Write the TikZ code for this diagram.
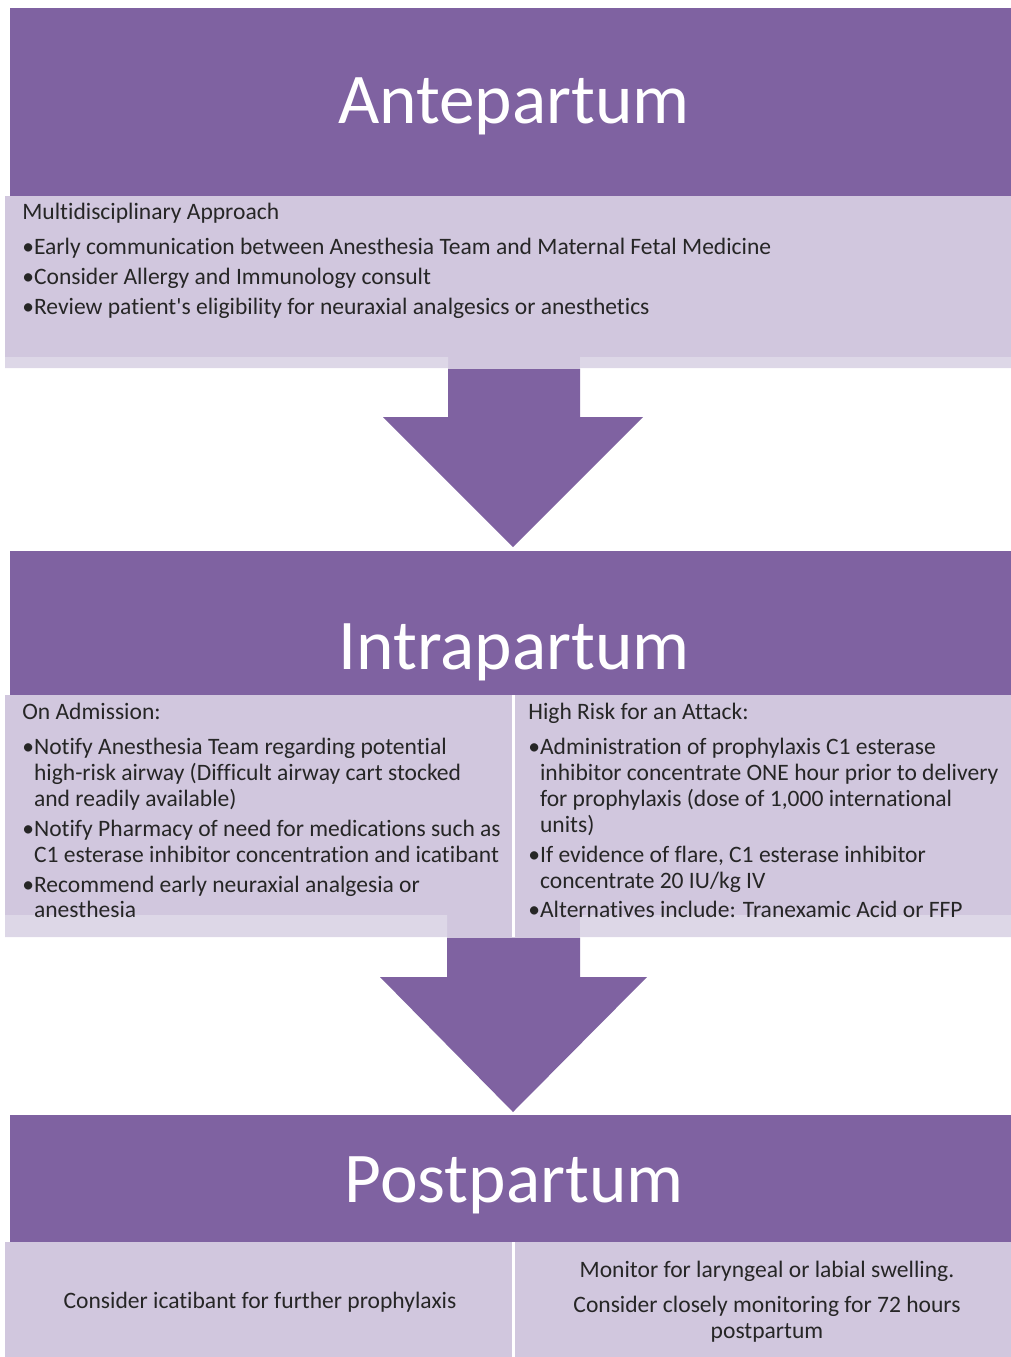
\documentclass[tikz,border=0pt]{standalone}
\usepackage{fontspec}
\setmainfont{Carlito}[Ligatures={NoCommon}]
\usepackage{xcolor}
\usetikzlibrary{calc,positioning}
\definecolor{phase}{RGB}{127,98,161}
\definecolor{panel}{RGB}{209,199,222}
\definecolor{panelhi}{RGB}{221,215,231}
\tikzset{hdr/.style={fill=phase,draw=none,inner sep=0pt,anchor=north west},
         pnl/.style={fill=panel,draw=none,inner sep=0pt,anchor=north west},
         ttl/.style={text=white,inner sep=0pt,font=\fontsize{40.6}{44}\selectfont},
         body/.style={text=black!85,inner sep=0pt,align=left,anchor=north west,
                      font=\fontsize{13.4}{14.74}\selectfont},
         blk/.style={fill=phase,draw=none}}
\newcommand{\bu}{\textbullet}
\newcommand{\hb}{\phantom{\textbullet}}

\begin{document}
\begin{tikzpicture}[x=0.02cm,y=-0.02cm]
\useasboundingbox (0,0) rectangle (1011,1357);
% antepartum
\node[hdr,minimum width=20.02cm,minimum height=3.76cm] (hdrA) at (10,8) {};
\node[ttl] (ttlA) at (514,106) {Antepartum};
\node[pnl,minimum width=20.12cm,minimum height=3.44cm] (pnlA) at (5,196) {};
\fill[panelhi] (5,357) rectangle (448,368) (580,357) rectangle (1011,368);
\node[body] (txtA) at (22,203) {Multidisciplinary Approach\\[5.1pt]
  \bu Early communication between Anesthesia Team and Maternal Fetal Medicine\\[2.27pt]
  \bu Consider Allergy and Immunology consult\\[2.27pt]
  \bu Review patient\textquotesingle s eligibility for neuraxial analgesics or anesthetics};
% arrow 1
\coordinate (tipA) at (513,547);
\fill[blk] (pnlA.south -| 448,0) -- (pnlA.south -| 580,0) -- ($(tipA)+(67,-130)$)
   -- ($(tipA)+(130,-130)$) -- (tipA) -- ($(tipA)+(-130,-130)$) -- ($(tipA)+(-65,-130)$) -- cycle;
% intrapartum
\node[hdr,minimum width=20.02cm,minimum height=2.88cm] (hdrB) at (10,551) {};
\node[ttl] (ttlB) at (514,652) {Intrapartum};
\node[pnl,minimum width=10.14cm,minimum height=4.84cm] (pnlBl) at (5,695) {};
\node[pnl,minimum width=9.92cm,minimum height=4.84cm] (pnlBr) at (515,695) {};
\fill[panelhi] (5,915) rectangle (447,937) (580,915) rectangle (1011,937);
\node[body] (txtBl) at (22,703) {On Admission:\\[5.1pt]
  \bu Notify Anesthesia Team regarding potential\\
  \hb high-risk airway (Difficult airway cart stocked\\
  \hb and readily available)\\[2.27pt]
  \bu Notify Pharmacy of need for medications such as\\
  \hb C1 esterase inhibitor concentration and icatibant\\[2.27pt]
  \bu Recommend early neuraxial analgesia or\\
  \hb anesthesia};
\node[body] (txtBr) at (528,703) {High Risk for an Attack:\\[5.1pt]
  \bu Administration of prophylaxis C1 esterase\\
  \hb inhibitor concentrate ONE hour prior to delivery\\
  \hb for prophylaxis (dose of 1,000 international\\
  \hb units)\\[2.27pt]
  \bu If evidence of flare, C1 esterase inhibitor\\
  \hb concentrate 20 IU/kg IV\\[2.27pt]
  \bu Alternatives include: Tranexamic Acid or FFP};
% arrow 2
\coordinate (tipB) at (513,1112);
\fill[blk] (pnlBl.south -| 447,0) -- (pnlBl.south -| 580,0) -- ($(tipB)+(67,-135)$)
   -- ($(tipB)+(134,-135)$) -- (tipB) -- ($(tipB)+(-133,-135)$) -- ($(tipB)+(-66,-135)$) -- cycle;
% postpartum
\node[hdr,minimum width=20.02cm,minimum height=2.54cm] (hdrC) at (10,1115) {};
\node[ttl] (ttlC) at (514,1185) {Postpartum};
\node[pnl,minimum width=10.14cm,minimum height=2.3cm] (pnlCl) at (5,1242) {};
\node[pnl,minimum width=9.92cm,minimum height=2.3cm] (pnlCr) at (515,1242) {};
\node[body,anchor=center,align=center] (txtCl) at (260,1302)
  {Consider icatibant for further prophylaxis};
\node[body,anchor=center,align=center] (txtCr) at (767,1302)
  {Monitor for laryngeal or labial swelling.\\[5.1pt]
   Consider closely monitoring for 72 hours\\ postpartum};
\end{tikzpicture}
\end{document}
